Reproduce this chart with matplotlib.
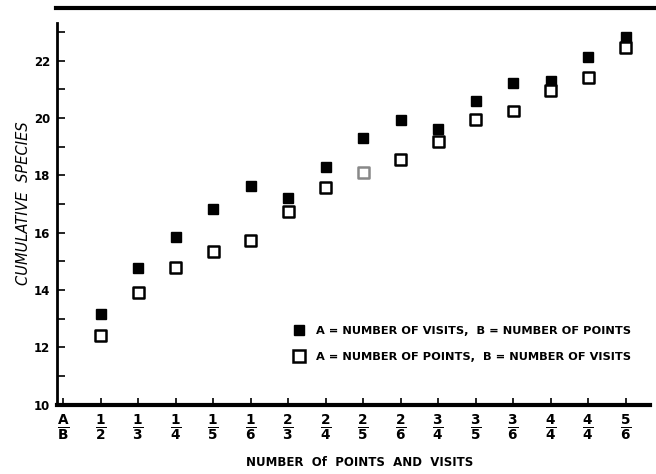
import matplotlib.pyplot as plt
from matplotlib.lines import Line2D

plt.rcParams['font.family'] = ['DejaVu Sans']
plt.rcParams['mathtext.fontset'] = 'dejavusans'

# tick labels: numerator over denominator (A over B)
nums = ['A', '1', '1', '1', '1', '1', '2', '2', '2', '2', '3', '3', '3', '4', '4', '5']
dens = ['B', '2', '3', '4', '5', '6', '3', '4', '5', '6', '4', '5', '6', '4', '4', '6']

# cumulative species, A = number of visits, B = number of points
visits_first = [13.17, 14.76, 15.86, 16.83, 17.64, 17.22, 18.28, 19.30, 19.93,
                19.62, 20.59, 21.23, 21.29, 22.13, 22.83]
# cumulative species, A = number of points, B = number of visits
points_first = [12.40, 13.91, 14.78, 15.34, 15.72, 16.75, 17.57, 18.11, 18.54,
                19.17, 19.93, 20.24, 20.94, 21.42, 22.46]

xpos = list(range(1, len(nums)))

fig = plt.figure(figsize=(6.56, 4.74), dpi=100)
ax = fig.add_axes([0.087, 0.146, 0.904, 0.805])

ax.plot(xpos, visits_first, 's', color='black', markersize=7.5, zorder=3,
        label='A = NUMBER OF VISITS,  B = NUMBER OF POINTS')
edge = ['black'] * len(xpos)
edge[7] = '#888888'
ax.scatter(xpos, points_first, marker='s', s=62, facecolors='white',
           edgecolors=edge, linewidths=1.8, zorder=4)
ax.plot([], [], 's', markerfacecolor='white', markeredgecolor='black',
        markeredgewidth=1.8, markersize=8,
        label='A = NUMBER OF POINTS,  B = NUMBER OF VISITS')

ax.set_xlim(-0.16, 15.65)
ax.set_ylim(10, 23.3)

ax.set_xticks(range(len(nums)))
ax.set_xticklabels([r'$\frac{\mathbf{%s}}{\mathbf{%s}}$' % (n, d) for n, d in zip(nums, dens)],
                   fontsize=14)
ax.set_yticks(range(10, 23, 2))
ax.set_yticklabels([str(v) for v in range(10, 23, 2)], fontsize=8.5, fontweight='bold')
ax.set_yticks(range(11, 24, 2), minor=True)

ax.tick_params(axis='y', which='both', direction='in', length=6, width=1.2, pad=5)
ax.tick_params(axis='x', direction='in', length=5, width=1.2, pad=6)

ax.spines['top'].set_visible(False)
ax.spines['right'].set_visible(False)
ax.spines['left'].set_linewidth(2)
ax.spines['bottom'].set_linewidth(3)

fig.text(0.036, 0.572, 'CUMULATIVE  SPECIES', rotation=90, fontsize=10.5,
         style='italic', ha='center', va='center')
fig.text(0.548, 0.024, 'NUMBER  Of  POINTS  AND  VISITS', fontsize=8.5,
         fontweight='bold', ha='center', va='center')

ax.legend(loc='lower right', bbox_to_anchor=(0.985, 0.085), frameon=False,
          prop={'size': 8.2, 'weight': 'bold'}, handletextpad=0.7,
          labelspacing=1.4, handlelength=1.5)

# heavy rule across the top
fig.add_artist(Line2D([0.085, 1.0], [0.984, 0.984], color='black', linewidth=3))

fig.savefig('out.png', dpi=100)
